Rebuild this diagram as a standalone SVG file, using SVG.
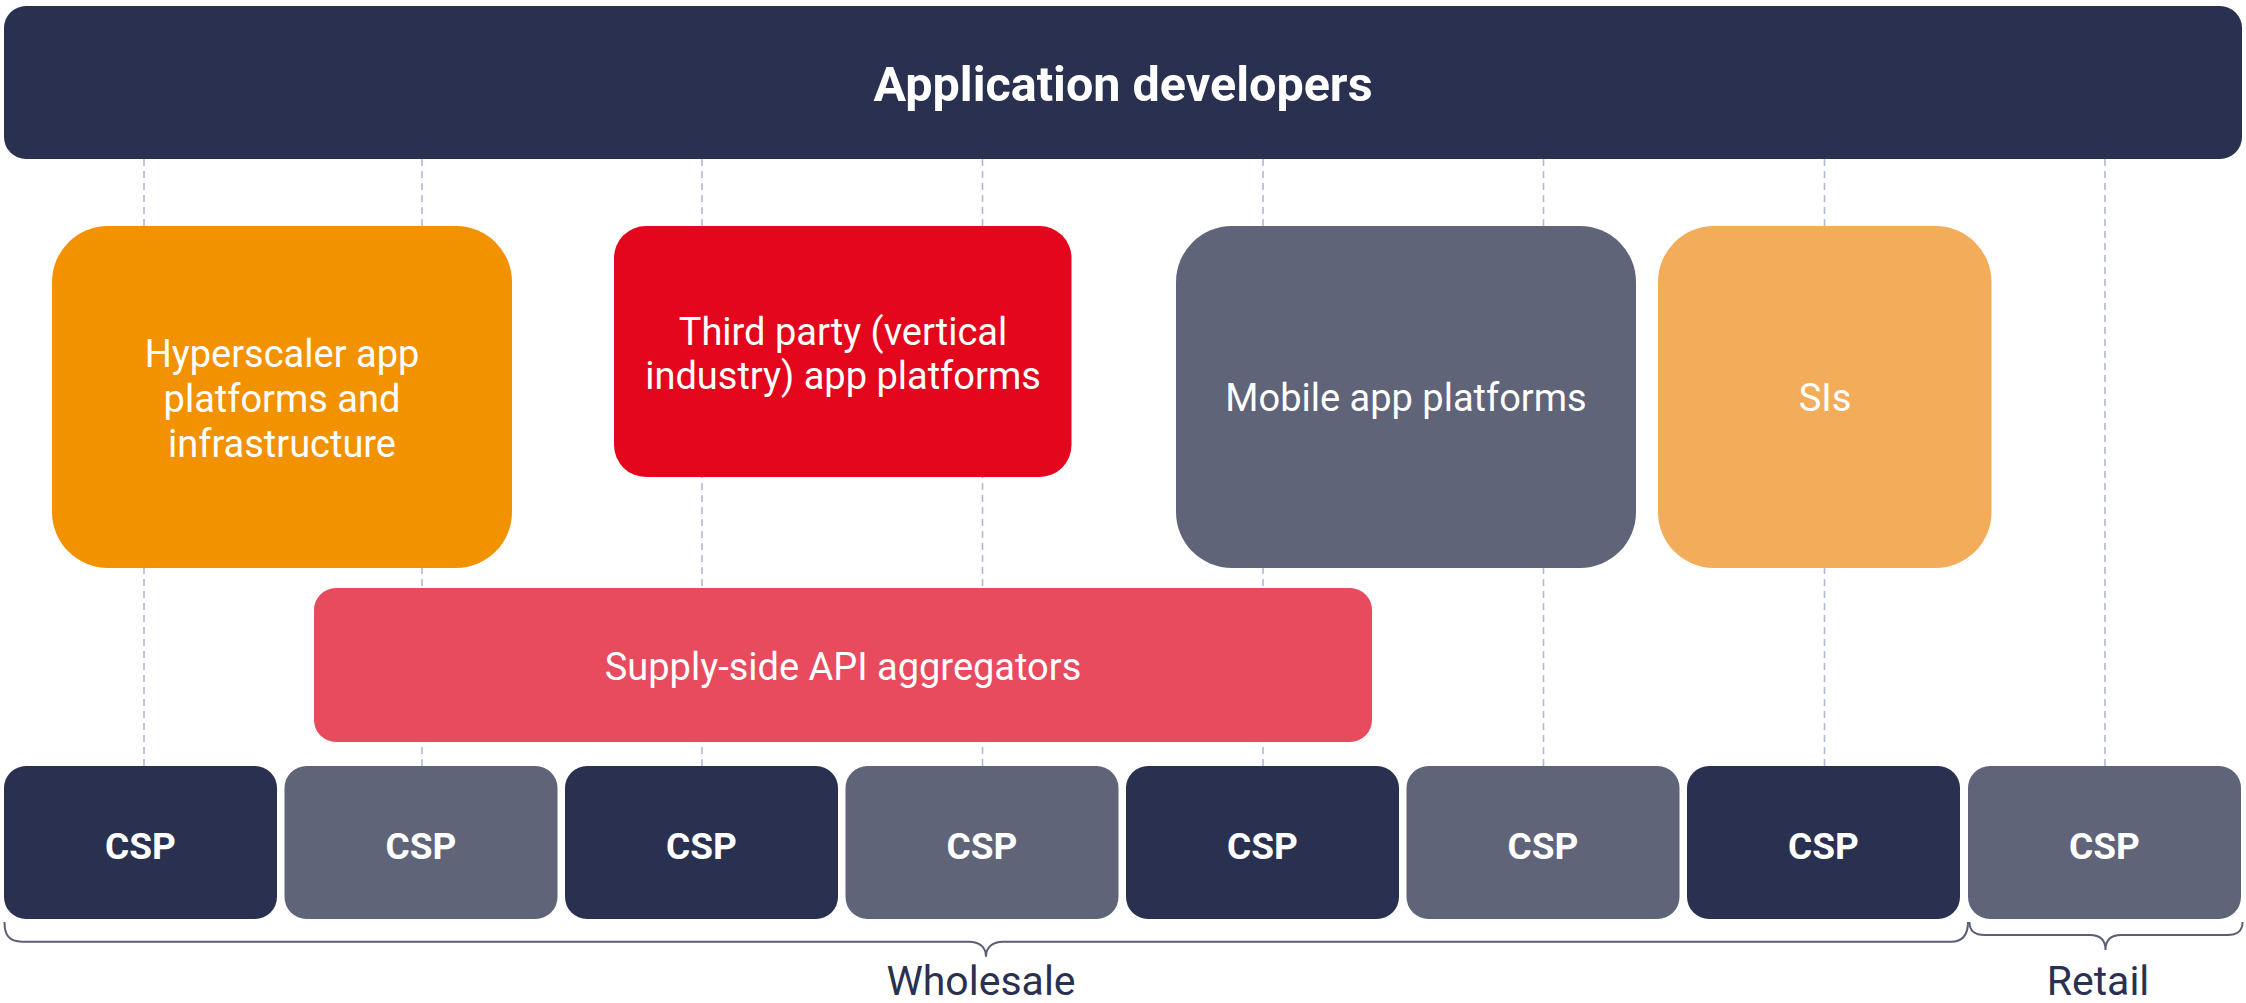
<svg xmlns="http://www.w3.org/2000/svg" width="2246" height="1003" viewBox="0 0 2246 1003">
  <style>
    .navy { fill: #2a3150; }
    .gray { fill: #5f6478; }
    .lbl { font-family: Roboto, "Liberation Sans", sans-serif; fill: #ffffff; text-anchor: middle; }
    .box { font-size: 38px; font-weight: 400; }
    .bold { font-weight: 700; }
    .csp { font-size: 37px; }
    .cap { font-family: Roboto, "Liberation Sans", sans-serif; fill: #2a3150; font-size: 41px; text-anchor: middle; }
    .dash { stroke: #b3b7d8; stroke-width: 1.6; stroke-dasharray: 7 5; fill: none; }
    .brace { stroke: #5a5f76; stroke-width: 2; fill: none; }
  </style>
  <rect width="2246" height="1003" fill="#ffffff"/>

  <g id="connectors">
    <line class="dash" x1="144" y1="159" x2="144" y2="766"/>
    <line class="dash" x1="422" y1="159" x2="422" y2="766"/>
    <line class="dash" x1="702" y1="159" x2="702" y2="766"/>
    <line class="dash" x1="982.5" y1="159" x2="982.5" y2="766"/>
    <line class="dash" x1="1263" y1="159" x2="1263" y2="766"/>
    <line class="dash" x1="1543.5" y1="159" x2="1543.5" y2="766"/>
    <line class="dash" x1="1824.5" y1="159" x2="1824.5" y2="766"/>
    <line class="dash" x1="2105" y1="159" x2="2105" y2="766"/>
  </g>

  <g id="app-developers">
    <rect class="navy" x="4" y="6" width="2238" height="153" rx="22" ry="22"/>
    <text class="lbl bold" x="1123" y="101" font-size="48.5">Application developers</text>
  </g>

  <g id="hyperscaler">
    <rect x="52" y="226" width="460" height="342" rx="56" ry="56" fill="#f39200"/>
    <text class="lbl box" x="282" y="367">Hyperscaler app</text>
    <text class="lbl box" x="282" y="412">platforms and</text>
    <text class="lbl box" x="282" y="457">infrastructure</text>
  </g>

  <g id="third-party">
    <rect x="614" y="226" width="457.5" height="251" rx="32" ry="32" fill="#e3061d"/>
    <text class="lbl box" x="843" y="345">Third party (vertical</text>
    <text class="lbl box" x="843" y="389">industry) app platforms</text>
  </g>

  <g id="mobile">
    <rect class="gray" x="1176" y="226" width="460" height="342" rx="56" ry="56"/>
    <text class="lbl box" x="1406" y="411">Mobile app platforms</text>
  </g>

  <g id="sis">
    <rect x="1658" y="226" width="333.5" height="342" rx="56" ry="56" fill="#f3ac5a"/>
    <text class="lbl box" x="1825" y="411">SIs</text>
  </g>

  <g id="supply-side">
    <rect x="314" y="588" width="1058" height="154" rx="22" ry="22" fill="#e84b5e"/>
    <text class="lbl box" x="843" y="680">Supply-side API aggregators</text>
  </g>

  <g id="csp-1"><rect class="navy" x="4" y="766" width="273" height="153" rx="22" ry="22"/><text class="lbl bold csp" x="140.5" y="859">CSP</text></g>
  <g id="csp-2"><rect class="gray" x="284.5" y="766" width="273" height="153" rx="22" ry="22"/><text class="lbl bold csp" x="421" y="859">CSP</text></g>
  <g id="csp-3"><rect class="navy" x="565" y="766" width="273" height="153" rx="22" ry="22"/><text class="lbl bold csp" x="701.5" y="859">CSP</text></g>
  <g id="csp-4"><rect class="gray" x="845.5" y="766" width="273" height="153" rx="22" ry="22"/><text class="lbl bold csp" x="982" y="859">CSP</text></g>
  <g id="csp-5"><rect class="navy" x="1126" y="766" width="273" height="153" rx="22" ry="22"/><text class="lbl bold csp" x="1262.5" y="859">CSP</text></g>
  <g id="csp-6"><rect class="gray" x="1406.5" y="766" width="273" height="153" rx="22" ry="22"/><text class="lbl bold csp" x="1543" y="859">CSP</text></g>
  <g id="csp-7"><rect class="navy" x="1687" y="766" width="273" height="153" rx="22" ry="22"/><text class="lbl bold csp" x="1823.5" y="859">CSP</text></g>
  <g id="csp-8"><rect class="gray" x="1968" y="766" width="273" height="153" rx="22" ry="22"/><text class="lbl bold csp" x="2104.5" y="859">CSP</text></g>

  <g id="wholesale">
    <path class="brace" d="M4.5,922 C4.5,935 9,941.7 22,941.7 H969 C979,941.7 986,947 986,956.7 C986,947 993,941.7 1003,941.7 H1951 C1963,941.7 1968,935 1968,922"/>
    <text class="cap" x="981" y="995">Wholesale</text>
  </g>

  <g id="retail">
    <path class="brace" d="M1969.5,922 C1969.5,931 1974,935 1985,935 H2090 C2100,935 2105.5,940 2105.5,950 C2105.5,940 2111,935 2121,935 H2227 C2238,935 2242.5,931 2242.5,922"/>
    <text class="cap" x="2098" y="995">Retail</text>
  </g>
</svg>
